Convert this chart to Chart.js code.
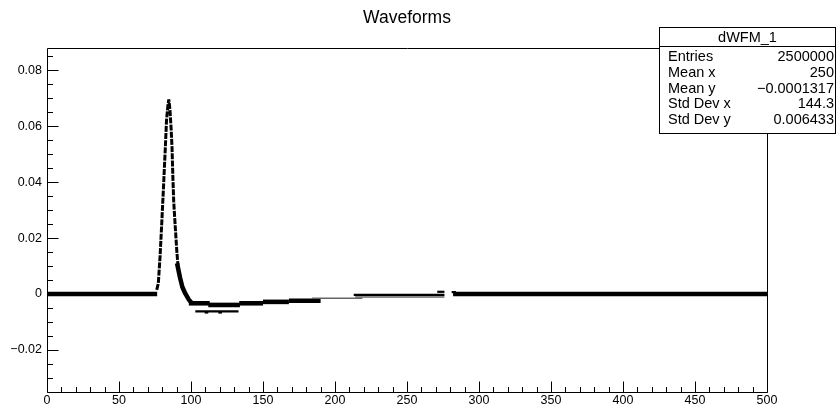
<!DOCTYPE html>
<html>
<head>
<meta charset="utf-8">
<script src="https://cdn.jsdelivr.net/npm/chart.js@4/dist/chart.umd.min.js"></script>
<style>
  html, body { margin: 0; padding: 0; background: #fff; }
  #wrap { width: 838px; height: 406px; }
</style>
</head>
<body>
<div id="wrap"><canvas id="c" width="838" height="406"></canvas></div>
<script>
// ---- histogram content ----------------------------------------------------
const chartTitle = 'Waveforms';
const statsTitle = 'dWFM_1';
const statsLabels = ['Entries', 'Mean x', 'Mean y', 'Std Dev x', 'Std Dev y'];
const statsValues = ['2500000', '250', '\u22120.0001317', '144.3', '0.006433'];

const xTickValues = [0, 50, 100, 150, 200, 250, 300, 350, 400, 450, 500];
const xTickLabels = ['0', '50', '100', '150', '200', '250', '300', '350', '400', '450', '500'];
const yTickValues = [-0.02, 0, 0.02, 0.04, 0.06, 0.08];
const yTickLabels = ['\u22120.02', '0', '0.02', '0.04', '0.06', '0.08'];

// pulse: rising edge, tip, falling edge (sample time, amplitude)
const pulseX = [76.2, 77.3, 78.5, 79.7, 80.8, 81.6, 82.2, 83.0, 84.0, 84.6, 85.4, 86.2, 86.8, 87.4, 88.0, 88.9, 90.1, 91.2];
const pulseY = [0.0015, 0.0038, 0.0133, 0.0254, 0.0371, 0.046, 0.0526, 0.0621, 0.0675, 0.0695, 0.0657, 0.059, 0.0526, 0.042, 0.033, 0.0254, 0.0157, 0.0086];

// end of the falling edge running into the undershoot
const recoveryX = [90.3, 92.4, 94.0, 96.0, 98.5, 100.5];
const recoveryY = [0.011, 0.0058, 0.0025, 0.0002, -0.002, -0.0032];

// densely populated rows: start, end, amplitude
const coreStart = [0, 98.5, 112, 133.5, 150, 168, 282];
const coreEnd   = [76.5, 113, 134, 150, 168, 190, 500];
const coreLevel = [0, -0.0033, -0.0039, -0.0033, -0.0028, -0.0024, 0];

// moderately populated rows
const sideStart = [103, 213, 109.5, 119, 271, 281];
const sideEnd   = [133, 276, 112, 121.5, 276, 284];
const sideLevel = [-0.0062, -0.0003, -0.0066, -0.0066, 0.0008, 0.0007];

// sparsely populated rows
const faintStart = [184, 214];
const faintEnd   = [219, 276];
const faintLevel = [-0.0015, -0.0011];

// ---- datasets ------------------------------------------------------------
const FONT = "'Liberation Sans', Arial, Helvetica, sans-serif";

function rowSets(starts, ends, levels, width, color) {
  return starts.map((s, i) => ({
    data: [{ x: s, y: levels[i] }, { x: ends[i], y: levels[i] }],
    borderColor: color,
    borderWidth: width,
    borderCapStyle: 'butt',
    pointRadius: 0,
    showLine: true,
    fill: false
  }));
}

const datasets = [
  ...rowSets(faintStart, faintEnd, faintLevel, 1.5, '#666'),
  ...rowSets(sideStart, sideEnd, sideLevel, 2.2, '#000'),
  ...rowSets(coreStart, coreEnd, coreLevel, 4.6, '#000'),
  {
    data: recoveryX.map((x, i) => ({ x, y: recoveryY[i] })),
    borderColor: '#000', borderWidth: 4.5, borderJoinStyle: 'bevel',
    pointRadius: 0, showLine: true, tension: 0
  },
  {
    data: pulseX.map((x, i) => ({ x, y: pulseY[i] })),
    borderColor: '#000', borderWidth: 3, borderDash: [6, 1.2], borderJoinStyle: 'bevel',
    pointRadius: 0, showLine: true, tension: 0
  }
];

// ---- frame, inward ticks, title and statistics box -------------------------
const rootFrame = {
  id: 'rootFrame',
  afterDatasetsDraw(chart) {
    const { ctx, chartArea: a, scales: { x, y } } = chart;
    const L = Math.round(a.left) + 0.5, R = Math.round(a.right) + 0.5;
    const T = Math.round(a.top) + 0.5, B = Math.round(a.bottom) + 0.5;
    ctx.save();
    ctx.strokeStyle = '#000';
    ctx.lineWidth = 1;
    ctx.beginPath();
    ctx.rect(L, T, R - L, B - T);
    // x axis: major every 50, minor every 10
    for (let v = 0; v <= 500; v += 10) {
      const px = Math.round(x.getPixelForValue(v)) + 0.5;
      const len = v % 50 === 0 ? 11 : 5.5;
      ctx.moveTo(px, B);
      ctx.lineTo(px, B - len);
    }
    // y axis: major every 0.02, minor every 0.005
    for (let k = -6; k <= 17; k++) {
      const v = k * 0.005;
      if (v < y.min || v > y.max) continue;
      const py = Math.round(y.getPixelForValue(v)) + 0.5;
      const len = k % 4 === 0 ? 11 : 5.5;
      ctx.moveTo(L, py);
      ctx.lineTo(L + len, py);
    }
    ctx.stroke();
    ctx.restore();
  },
  afterDraw(chart) {
    const { ctx } = chart;
    ctx.save();
    ctx.fillStyle = '#000';
    ctx.font = '17.5px ' + FONT;
    ctx.textAlign = 'center';
    ctx.textBaseline = 'alphabetic';
    ctx.fillText(chartTitle, 407, 23);

    // statistics box
    const bx = 659.5, by = 27.5, bw = 176, bh = 106, hy = 46.5;
    ctx.fillStyle = '#fff';
    ctx.fillRect(bx, by, bw, bh);
    ctx.strokeStyle = '#000';
    ctx.lineWidth = 1;
    ctx.strokeRect(bx, by, bw, bh);
    ctx.beginPath();
    ctx.moveTo(bx, hy);
    ctx.lineTo(bx + bw, hy);
    ctx.stroke();
    ctx.fillStyle = '#000';
    ctx.font = '14.5px ' + FONT;
    ctx.textBaseline = 'middle';
    ctx.textAlign = 'center';
    ctx.fillText(statsTitle, bx + bw / 2, 37.5);
    statsLabels.forEach((lab, i) => {
      const ty = 57 + i * 15.8;
      ctx.textAlign = 'left';
      ctx.fillText(lab, 668, ty);
      ctx.textAlign = 'right';
      ctx.fillText(statsValues[i], 834, ty);
    });
    ctx.restore();
  }
};

new Chart(document.getElementById('c'), {
  type: 'scatter',
  data: { datasets },
  options: {
    responsive: false,
    animation: false,
    devicePixelRatio: 1,
    layout: { padding: { left: 0, right: 71, top: 48, bottom: 0 } },
    plugins: { legend: { display: false }, tooltip: { enabled: false }, title: { display: false } },
    elements: { line: { borderCapStyle: 'butt' } },
    scales: {
      x: {
        type: 'linear', min: 0, max: 500,
        grid: { display: false, drawTicks: false },
        border: { display: false },
        afterBuildTicks: s => { s.ticks = xTickValues.map(v => ({ value: v })); },
        afterFit: s => { s.height = 14; },
        ticks: {
          autoSkip: false, maxRotation: 0, padding: 1, color: '#000',
          font: { family: FONT, size: 12.5 },
          callback: (v, i) => xTickLabels[i]
        }
      },
      y: {
        type: 'linear', min: -0.035, max: 0.0879,
        grid: { display: false, drawTicks: false },
        border: { display: false },
        afterBuildTicks: s => { s.ticks = yTickValues.map(v => ({ value: v })); },
        afterFit: s => { s.width = 47; },
        ticks: {
          autoSkip: false, padding: 5, color: '#000',
          font: { family: FONT, size: 12.5 },
          callback: (v, i) => yTickLabels[i]
        }
      }
    }
  },
  plugins: [rootFrame]
});
</script>
</body>
</html>
